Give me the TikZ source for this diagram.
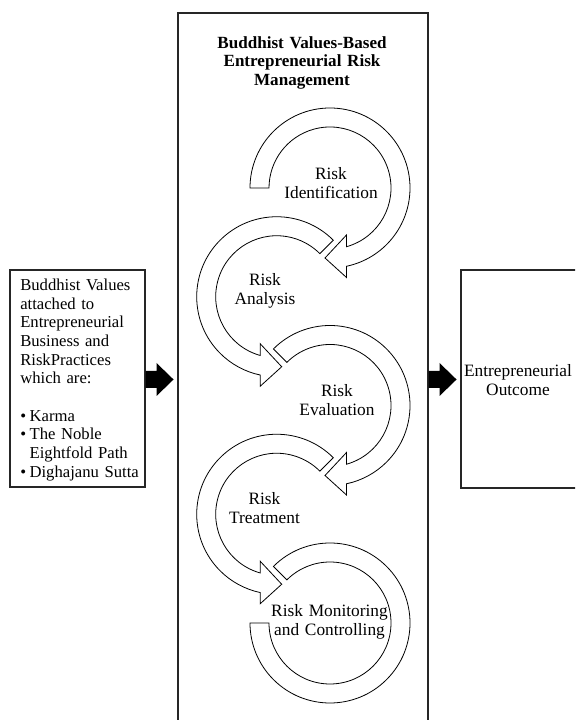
\documentclass[tikz,border=0pt]{standalone}
\usepackage{fontspec}
\setmainfont{Liberation Serif}

% circular band arrows: centre x, centre y, start angle
\newcommand\cwband[3]{%
  \draw[band, shift={(#1,#2)}] (#3:80) arc[start angle=#3, end angle=-78.1, radius=80]
    -- (16.5,-89.5) -- (-5,-70) -- (16.5,-47) -- (-74.3:61)
    arc[start angle=-74.3, end angle=#3, radius=61] -- cycle;}
\newcommand\ccwband[3]{%
  \draw[band, shift={(#1,#2)}] (#3:80) arc[start angle=#3, end angle=258.1, radius=80]
    -- (-16.5,-89.5) -- (5,-70) -- (-16.5,-47) -- (254.3:61)
    arc[start angle=254.3, end angle=#3, radius=61] -- cycle;}

\begin{document}
\begin{tikzpicture}[x=0.75pt,y=0.75pt,
  frame/.style={draw=black!85, line width=0.8pt, fill=white, inner sep=0pt},
  band/.style={draw=black, line width=0.6pt, fill=white, line join=miter},
  blockarrow/.style={fill=black},
  txt/.style={font=\fontsize{13}{14}\selectfont, inner sep=0pt},
  lbl/.style={txt, text width=150pt, align=center, anchor=base},
]
\useasboundingbox (0,0) rectangle (575,720);
\clip (0,0) rectangle (575,720);

% the three boxes
\node[frame, minimum width=101.25pt, minimum height=162.75pt] (values) at (77.5,341.5) {};
\node[frame, minimum width=187.5pt, minimum height=537.75pt] (erm) at (303,348.5) {};
\node[frame, minimum width=104.25pt, minimum height=163.5pt] (outcome) at (530.5,341) {};

% block arrows between the boxes
\fill[blockarrow, shift={([yshift=-0.75pt]values.east)}]
  (0,-8.5) -- (11,-8.5) -- (11,-16.5) -- (28,0) -- (11,16.5) -- (11,8.5) -- (0,8.5) -- cycle;
\fill[blockarrow, shift={([yshift=-6pt]erm.east)}]
  (0,-8.5) -- (11,-8.5) -- (11,-16.5) -- (28,0) -- (11,16.5) -- (11,8.5) -- (0,8.5) -- cycle;

% left box text
\node[txt, font=\fontsize{12.5}{14}\selectfont, text width=120pt, align=left, anchor=base west]
  (valuestext) at (20,429.5)
  {Buddhist Values\\
   attached to\\
   Entrepreneurial\\
   Business and\\
   RiskPractices\\
   which are:\\[14pt]
   \makebox[7pt][l]{\textbullet}Karma\\
   \makebox[7pt][l]{\textbullet}The Noble\\
   \hspace*{7pt}Eightfold Path\\
   \makebox[7pt][l]{\textbullet}Dighajanu Sutta};

% title of the middle box
\node[lbl, font=\fontsize{12.8}{13.8}\selectfont\bfseries] (title) at (302,671.7)
  {Buddhist Values-Based\\Entrepreneurial Risk\\Management};

% the cycle of risk management steps
\cwband{330}{532}{180}
\ccwband{276.7}{423.25}{45}
\cwband{330}{314.5}{135}
\ccwband{276.7}{205.75}{45}
\draw[band, shift={(330,97)}] (135:80) arc[start angle=135, end angle=-180, radius=80]
  -- (-180:61) arc[start angle=-180, end angle=135, radius=61] -- cycle;

\node[lbl] (ident) at (331,540) {Risk\\Identification};
\node[lbl] (analysis) at (265,434.5) {Risk\\Analysis};
\node[lbl] (evaluation) at (337,323) {Risk\\Evaluation};
\node[lbl] (treatment) at (264.5,215.5) {Risk\\Treatment};
\node[lbl] (monitoring) at (329.5,103) {Risk Monitoring\\and Controlling};

% right box text
\node[lbl] (outcometext) at (518,343.3) {Entrepreneurial\\Outcome};
\end{tikzpicture}
\end{document}
